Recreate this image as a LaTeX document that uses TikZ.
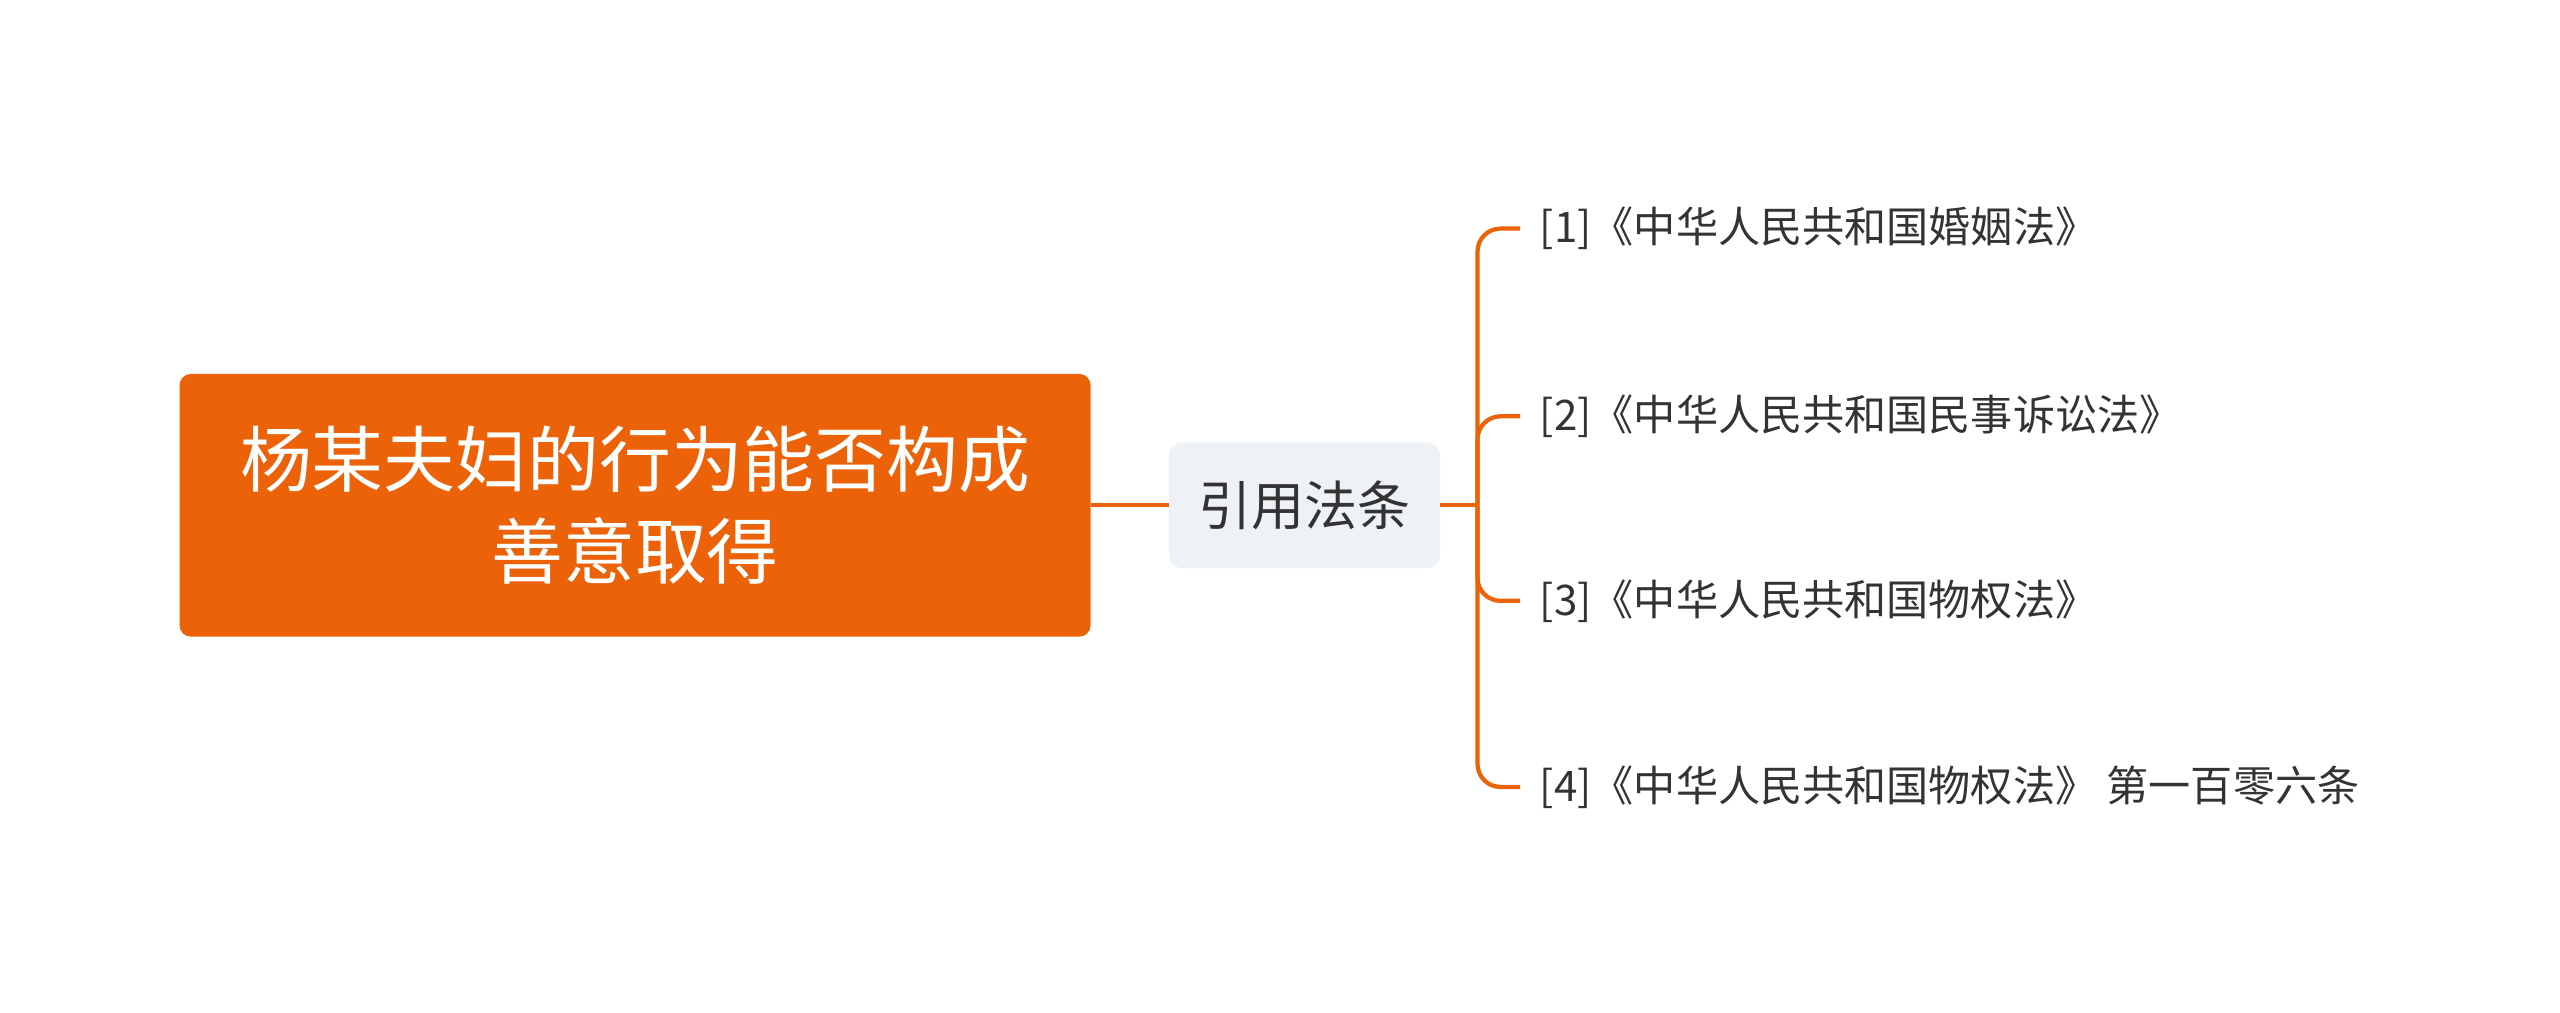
\documentclass[tikz,border=0pt]{standalone}
\usepackage{fontspec}
\setmainfont{Noto Sans CJK SC}
\definecolor{org}{HTML}{EB6209}
\definecolor{midbg}{HTML}{EEF1F5}
\definecolor{txt}{HTML}{333333}
\begin{document}
\begin{tikzpicture}[x=1pt,y=-1pt,
  leaf/.style={anchor=west,inner sep=0pt,text=txt,font=\fontsize{25.8}{30}\selectfont},
  conn/.style={draw=org,line width=2.6pt}]
\useasboundingbox (0,0) rectangle (1568,620);
\node[fill=org,rounded corners=7pt,minimum width=558pt,minimum height=161pt,text=white,
  align=center,font=\fontsize{44}{56}\selectfont] (root) at (389,309.5) {杨某夫妇的行为能否构成\\善意取得};
\node[fill=midbg,rounded corners=8pt,minimum width=166pt,minimum height=77pt,text=txt,
  font=\fontsize{32.5}{38}\selectfont] (mid) at (799,309.5) {引用法条};
\draw[conn] (root.east) -- (mid.west);
\node[leaf] (l1) at (943,140) {[1]《中华人民共和国婚姻法》};
\node[leaf] (l2) at (943,255) {[2]《中华人民共和国民事诉讼法》};
\node[leaf] (l3) at (943,368) {[3]《中华人民共和国物权法》};
\node[leaf] (l4) at (943,482) {[4]《中华人民共和国物权法》 第一百零六条};
\coordinate (j) at (905,309.5);
\draw[conn] (mid.east) -- (j);
\foreach \n in {l1,l2,l3,l4}{
  \draw[conn,rounded corners=14pt] (j) |- ([xshift=-12pt]\n.west);
}
\end{tikzpicture}
\end{document}
